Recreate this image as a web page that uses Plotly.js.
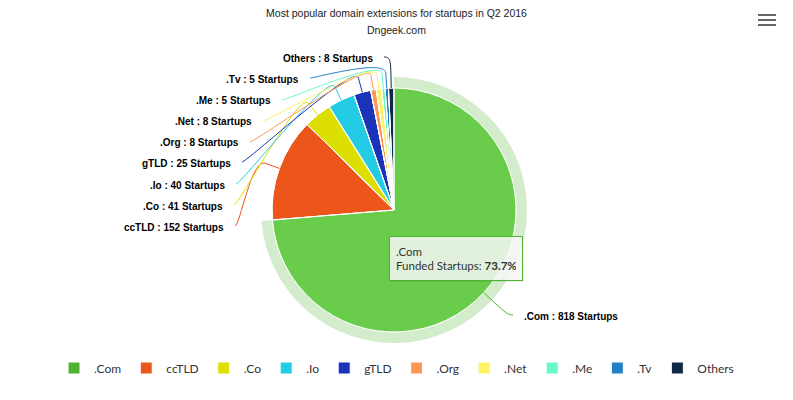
<!DOCTYPE html>
<html><head><meta charset="utf-8">
<script src="https://cdn.plot.ly/plotly-3.0.1.min.js"></script>
<style>html,body{margin:0;padding:0;background:#fff;} #chart{width:793px;height:400px;}</style>
</head><body><div id="chart"></div>
<script>
// ---- data ----
const categories = ['.Com','ccTLD','.Co','.Io','gTLD','.Org','.Net','.Me','.Tv','Others'];
const startups   = [818, 152, 41, 40, 25, 8, 8, 5, 5, 8];
const colors     = ['#50B432','#ED561B','#DDDF00','#24CBE5','#1B33B8','#FF9655','#FFF263','#6AF9C4','#2381C8','#0F2944'];
const hoveredIndex = 0;
const hoverColor = '#69CD4B';

// ---- layout constants (pixels) ----
const W = 793, H = 400;
const CX = 394, CY = 210, R = 122, HALO = 11;
// data label anchors: [edge x, center y, side]
const labelAnchors = [[522,316,'left'],[226,227,'right'],[225,206,'right'],[227,185,'right'],[233,163,'right'],
                      [241,143,'right'],[254,122,'right'],[273,101,'right'],[301,79,'right'],[375,58,'right']];
const tip = {x:388.5, y:235.5, w:120, h:31, pad:6};

const px = x => x / W, py = y => 1 - y / H;
const dom = r => ({x:[px(CX - r), px(CX + r)], y:[py(CY + r), py(CY - r)]});

const total = startups.reduce((a,b)=>a+b,0);

const base = {type:'pie', labels:categories, values:startups, sort:false, direction:'clockwise', rotation:0,
              textinfo:'none', hoverinfo:'skip'};

const haloTrace = Object.assign({}, base, {
  domain: dom(R + HALO), showlegend:false,
  marker:{colors: categories.map((c,i)=> i===hoveredIndex ? 'rgba(80,180,50,0.25)' : 'rgba(0,0,0,0)'), line:{width:0}}
});
const mainTrace = Object.assign({}, base, {
  domain: dom(R), showlegend:true,
  marker:{colors: colors, line:{color:'#ffffff', width:1}}
});
const hoverTrace = Object.assign({}, base, {
  domain: dom(R), showlegend:false,
  marker:{colors: categories.map((c,i)=> i===hoveredIndex ? hoverColor : 'rgba(0,0,0,0)'),
          line:{color:'#ffffff', width:1}}
});

// connectors & labels
const shapes = [], annotations = [];
const P = (x,y) => px(x).toFixed(5) + ',' + py(y).toFixed(5);
let cum = 0;
startups.forEach((v,i)=>{
  const mid = (cum + v/2) / total * 2 * Math.PI; cum += v;
  const ex = CX + R*Math.sin(mid), ey = CY - R*Math.cos(mid);
  const bx = CX + (R+15)*Math.sin(mid), by = CY - (R+15)*Math.cos(mid);
  const [lx, ly, side] = labelAnchors[i];
  const sgn = side === 'right' ? 1 : -1;
  const sx = lx + sgn*9, sy = ly - 1;
  const c1x = sx + sgn*5, c1y = sy;
  const c2x = 2*bx - ex, c2y = 2*by - ey;
  shapes.push({type:'path', xref:'paper', yref:'paper', layer:'above',
    path:'M' + P(sx,sy) + ' C' + P(c1x,c1y) + ' ' + P(c2x,c2y) + ' ' + P(bx,by) + ' L' + P(ex,ey),
    line:{color: colors[i], width:1}});
  annotations.push({xref:'paper', yref:'paper', x:px(lx), y:py(ly), xanchor: side==='right' ? 'right' : 'left', yanchor:'middle',
    showarrow:false, text:'<b>' + categories[i] + ' : ' + v + ' Startups</b>',
    font:{family:'Liberation Sans, Arial, sans-serif', size:10, color:'#000'}});
});

// subtitle
annotations.push({xref:'paper', yref:'paper', x:0.5, y:py(30), xanchor:'center', yanchor:'middle', showarrow:false,
  text:'Dngeek.com', font:{family:'Liberation Sans, Arial, sans-serif', size:10.5, color:'#222'}});

// tooltip shadow
const tx1 = tip.x + tip.w + 2*tip.pad + 2, ty1 = tip.y + tip.h + 2*tip.pad + 2;
shapes.push({type:'path', xref:'paper', yref:'paper', layer:'above',
  path:'M' + P(tip.x+2, ty1) + ' L' + P(tx1, ty1) + ' L' + P(tx1, tip.y+2),
  line:{color:'rgba(0,0,0,0.15)', width:2}});
// tooltip
const pct = (startups[hoveredIndex]/total*100).toFixed(1);
annotations.push({xref:'paper', yref:'paper', x:px(tip.x), y:py(tip.y), xanchor:'left', yanchor:'top', showarrow:false, align:'left', valign:'middle',
  width:tip.w, height:tip.h,
  text: categories[hoveredIndex] + '<br>Funded Startups: <b>' + pct + '%</b>',
  bgcolor:'rgba(247,247,247,0.85)', bordercolor:'#50B432', borderwidth:1, borderpad:tip.pad,
  font:{family:'Lato, sans-serif', size:11.5, color:'#333'}});

// menu icon
[15,20,25].forEach(y=>shapes.push({type:'line', xref:'paper', yref:'paper', x0:px(758), x1:px(776), y0:py(y), y1:py(y),
  line:{color:'#666', width:2}}));

const layout = {
  width:W, height:H, margin:{l:0,r:0,t:0,b:0}, paper_bgcolor:'#fff',
  title:{text:'Most popular domain extensions for startups in Q2 2016', x:0.5, xanchor:'center', y:py(13), yref:'container', yanchor:'middle',
         font:{family:'Liberation Sans, Arial, sans-serif', size:10.5, color:'#222'}},
  legend:{orientation:'h', x:0.5, xanchor:'center', y:py(368), yanchor:'middle', font:{family:'Lato, sans-serif', size:12, color:'#333'}, itemwidth:30},
  shapes:shapes, annotations:annotations
};
Plotly.newPlot('chart', [haloTrace, mainTrace, hoverTrace], layout, {displayModeBar:false, staticPlot:true});
</script></body></html>
